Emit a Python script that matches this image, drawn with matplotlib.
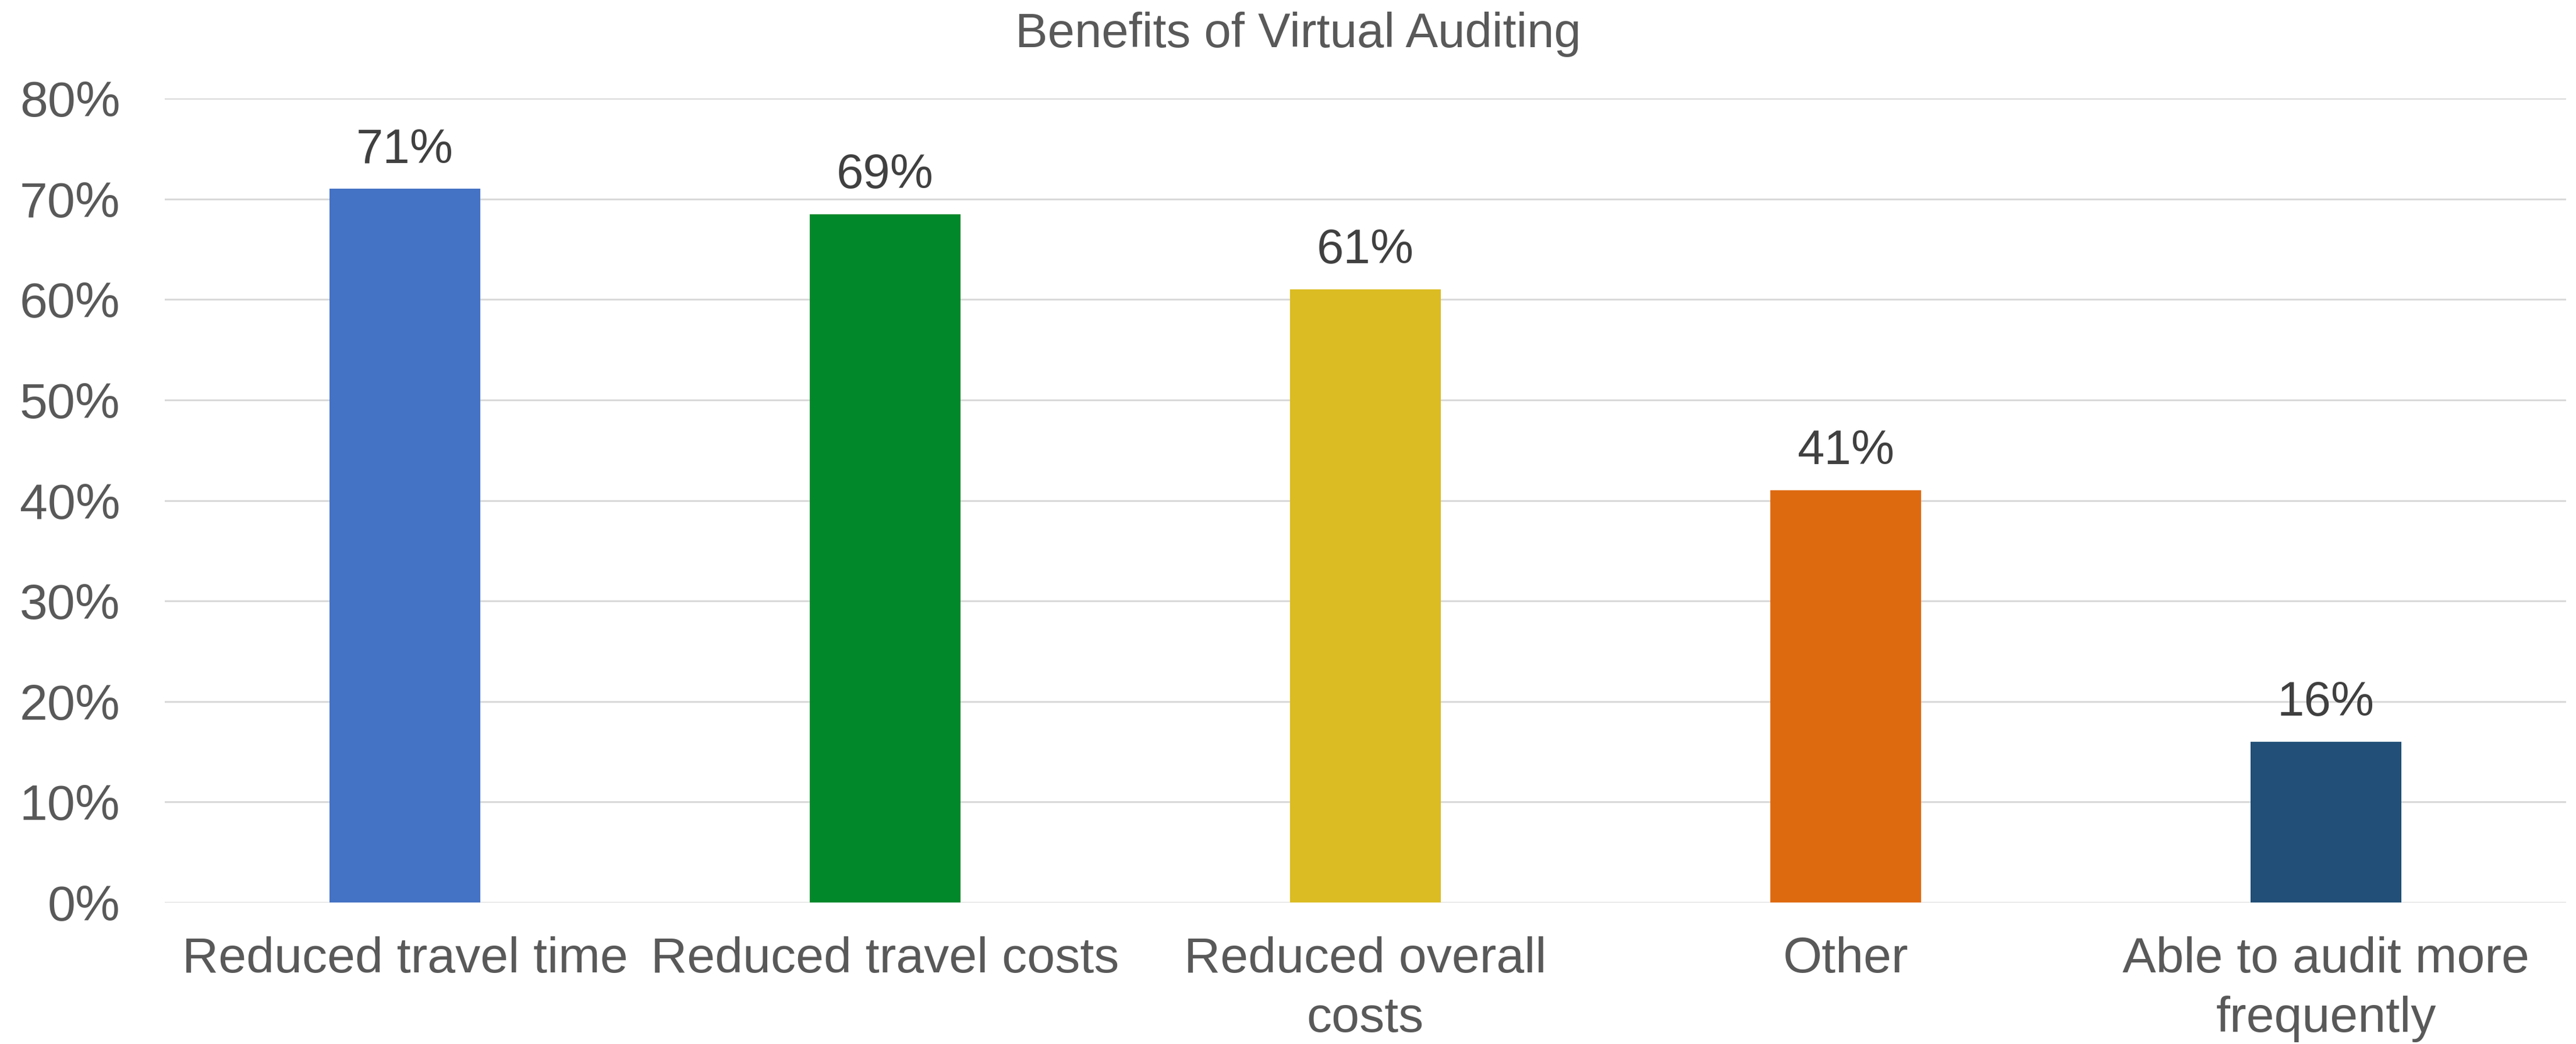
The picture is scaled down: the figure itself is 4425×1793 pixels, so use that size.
import matplotlib.pyplot as plt
from matplotlib.ticker import PercentFormatter

# data
categories = ['Reduced travel time', 'Reduced travel costs', 'Reduced overall\ncosts',
              'Other', 'Able to audit more\nfrequently']
values = [0.71, 0.685, 0.61, 0.41, 0.16]
labels = ['71%', '69%', '61%', '41%', '16%']
colors = ['#4472C4', '#00882B', '#DBBC22', '#DE6A10', '#214F77']

plt.rcParams['font.family'] = ['Liberation Sans', 'DejaVu Sans']

fig = plt.figure(figsize=(44.25, 17.93), dpi=100)
ax = fig.add_axes([283/4425, 1 - 1550/1793, (4408-283)/4425, (1550-169)/1793])

x = range(len(categories))
bars = ax.bar(x, values, width=0.314, color=colors, zorder=3)

# data labels above bars
for b, lab in zip(bars, labels):
    ax.annotate(lab, (b.get_x() + b.get_width()/2, b.get_height()),
                xytext=(0, 20), textcoords='offset points',
                ha='center', va='bottom', fontsize=60, color='#404040')

ax.set_xlim(-0.5, len(categories) - 0.5)
ax.set_ylim(0, 0.8)
ax.set_yticks([i/10 for i in range(9)])
ax.yaxis.set_major_formatter(PercentFormatter(1.0, decimals=0))
ax.set_xticks(list(x))
ax.set_xticklabels(categories, multialignment='center', linespacing=1.35)

ax.tick_params(axis='y', length=0, pad=55, labelsize=62, labelcolor='#595959')
ax.tick_params(axis='x', length=0, pad=42, labelsize=62, labelcolor='#595959')
ax.grid(axis='y', color='#D9D9D9', linewidth=2.2, zorder=0)
for s in ax.spines.values():
    s.set_visible(False)

fig.text(2230/4425, 1 - 20/1793, 'Benefits of Virtual Auditing', ha='center', va='top',
         fontsize=60, color='#595959')

fig.savefig('out.png', dpi=100)
